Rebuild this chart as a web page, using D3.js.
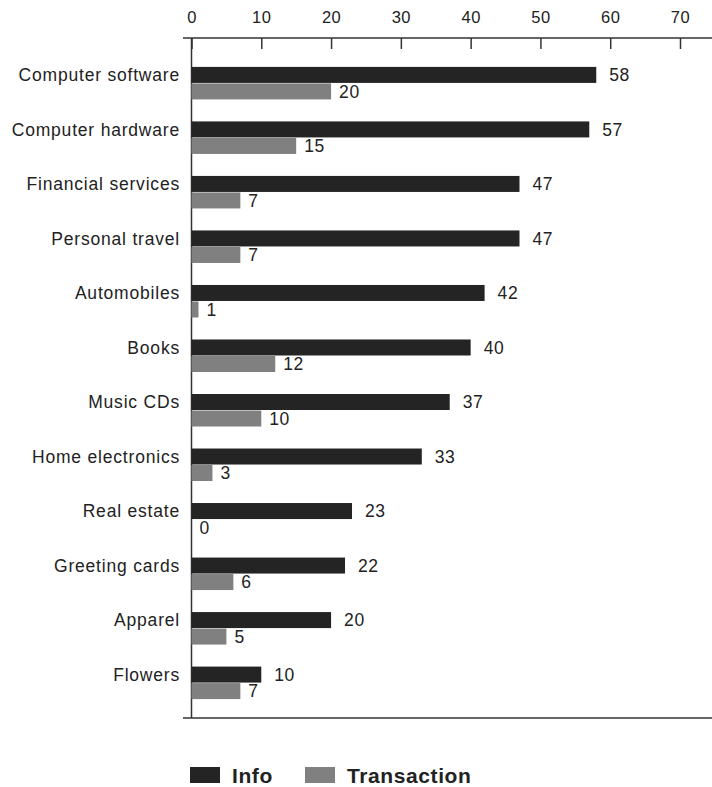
<!DOCTYPE html>
<html>
<head>
<meta charset="utf-8">
<script src="https://cdn.jsdelivr.net/npm/d3@7"></script>
<style>
  body { margin: 0; background: #fff; }
  text { font-family: "Liberation Sans", Arial, sans-serif; fill: #222; }
</style>
</head>
<body>
<div id="my_dataviz"></div>
<script>
// chart data
var categories = ["Computer software", "Computer hardware", "Financial services", "Personal travel",
    "Automobiles", "Books", "Music CDs", "Home electronics", "Real estate", "Greeting cards",
    "Apparel", "Flowers"];
var infoValues = [58, 57, 47, 47, 42, 40, 37, 33, 23, 22, 20, 10];
var transactionValues = [20, 15, 7, 7, 1, 12, 10, 3, 0, 6, 5, 7];
var seriesNames = ["Info", "Transaction"];
var xTicks = [0, 10, 20, 30, 40, 50, 60, 70];

var colors = { "Info": "#242424", "Transaction": "#808080" };

var svg = d3.select("#my_dataviz")
    .append("svg")
    .attr("width", 712)
    .attr("height", 787);

var axisTopY = 38,
    axisBottomY = 718;

// x scale
var x = d3.scaleLinear()
    .domain([0, 70])
    .range([191.5, 680]);

// category bands
var y = d3.scaleBand()
    .domain(categories)
    .range([56, 710.5])
    .paddingInner(0.3945)
    .paddingOuter(0.2);

var ySub = d3.scaleBand()
    .domain(seriesNames)
    .range([0, y.bandwidth()]);

var rows = categories.map(function (c, i) {
    return { category: c, values: [
        { series: "Info", value: infoValues[i] },
        { series: "Transaction", value: transactionValues[i] }
    ] };
});

// top axis
var xaxis = d3.axisTop(x)
    .tickValues(xTicks)
    .tickSize(-11)
    .tickSizeOuter(0)
    .tickPadding(15);

var gx = svg.append("g")
    .attr("transform", "translate(0," + axisTopY + ")")
    .call(xaxis);
gx.select(".domain").remove();
gx.selectAll(".tick line").attr("stroke", "#333").attr("stroke-width", 1.5);
gx.selectAll(".tick text")
    .style("font-size", "16.5px")
    .style("letter-spacing", "0.5px")
    .style("font-family", "'Liberation Sans', Arial, sans-serif")
    .attr("fill", "#222");

// axis lines
svg.append("line")
    .attr("x1", 183).attr("x2", 712)
    .attr("y1", axisTopY).attr("y2", axisTopY)
    .attr("stroke", "#333").attr("stroke-width", 1.5);
svg.append("line")
    .attr("x1", 183).attr("x2", 712)
    .attr("y1", axisBottomY).attr("y2", axisBottomY)
    .attr("stroke", "#333").attr("stroke-width", 1.5);
svg.append("line")
    .attr("x1", x(0)).attr("x2", x(0))
    .attr("y1", axisTopY).attr("y2", axisBottomY)
    .attr("stroke", "#333").attr("stroke-width", 1.5);

// bars
var groups = svg.selectAll(".group")
    .data(rows)
    .join("g")
    .attr("class", "group")
    .attr("transform", function (d) { return "translate(0," + y(d.category) + ")"; });

groups.selectAll("rect")
    .data(function (d) { return d.values; })
    .join("rect")
    .attr("x", x(0))
    .attr("y", function (d) { return ySub(d.series); })
    .attr("width", function (d) { return x(d.value) - x(0); })
    .attr("height", ySub.bandwidth() - 0.5)
    .attr("fill", function (d) { return colors[d.series]; });

// value labels
groups.selectAll(".val")
    .data(function (d) { return d.values; })
    .join("text")
    .attr("class", "val")
    .attr("x", function (d) { return x(d.value) + (d.series == "Info" ? 13 : 8); })
    .attr("y", function (d) { return ySub(d.series) + ySub.bandwidth() / 2; })
    .attr("dy", "0.35em")
    .style("font-size", "17.5px")
    .style("letter-spacing", "0.6px")
    .text(function (d) { return d.value; });

// category labels
groups.append("text")
    .attr("x", 180)
    .attr("y", ySub("Info") + ySub.bandwidth() / 2)
    .attr("dy", "0.35em")
    .attr("text-anchor", "end")
    .style("font-size", "17.5px")
    .style("letter-spacing", "0.8px")
    .text(function (d) { return d.category; });

// legend
var legendItems = [
    { name: "Info", x: 190 },
    { name: "Transaction", x: 305 }
];
var legend = svg.selectAll(".legend")
    .data(legendItems)
    .join("g")
    .attr("class", "legend")
    .attr("transform", function (d) { return "translate(" + d.x + ",767)"; });
legend.append("rect")
    .attr("width", 30)
    .attr("height", 16)
    .attr("fill", function (d) { return colors[d.name]; });
legend.append("text")
    .attr("x", 42)
    .attr("y", 8)
    .attr("dy", "0.36em")
    .style("font-size", "21px")
    .style("font-weight", "bold")
    .style("letter-spacing", "0.6px")
    .text(function (d) { return d.name; });
</script>
</body>
</html>
